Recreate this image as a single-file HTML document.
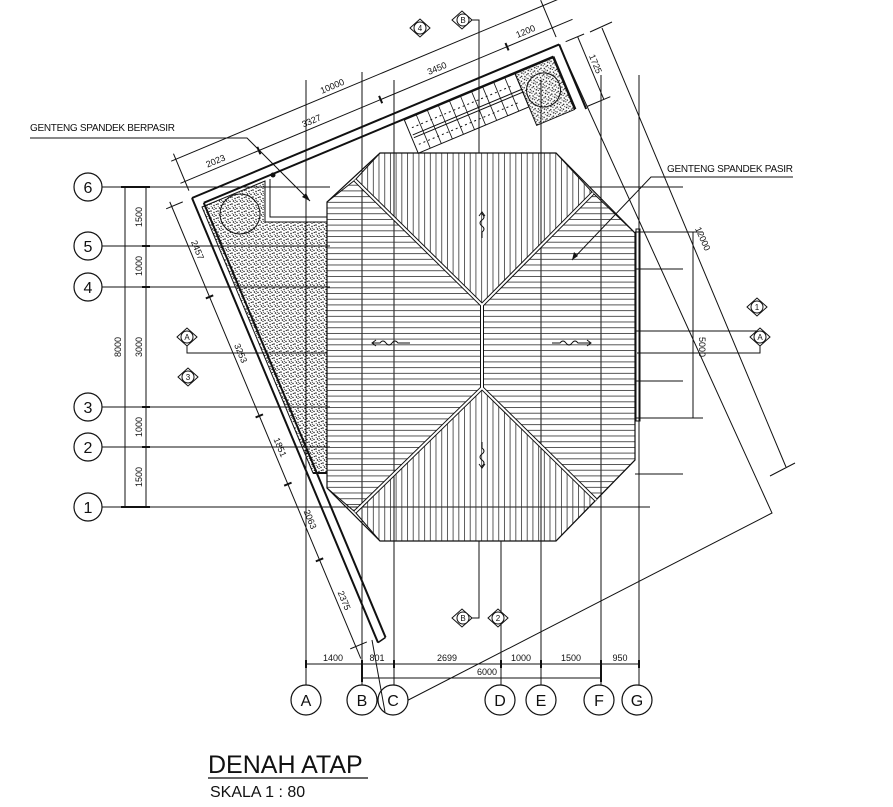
<!DOCTYPE html>
<html><head><meta charset="utf-8"><style>
html,body{margin:0;padding:0;background:#fff;}
svg{display:block;}
text{font-family:"Liberation Sans",sans-serif;fill:#111;}
.d{font-size:9px;}
</style></head><body>
<svg width="893" height="807" viewBox="0 0 893 807" xmlns="http://www.w3.org/2000/svg">
<defs>
<pattern id="hz" patternUnits="userSpaceOnUse" width="20" height="5.7"><line x1="0" y1="2.8" x2="20" y2="2.8" stroke="#333" stroke-width="0.8"/></pattern>
<pattern id="vt" patternUnits="userSpaceOnUse" width="5.7" height="20"><line x1="2.8" y1="0" x2="2.8" y2="20" stroke="#333" stroke-width="0.8"/></pattern>
<pattern id="gr" patternUnits="userSpaceOnUse" width="7" height="7">
<circle cx="1" cy="1" r="0.8" fill="#111"/><circle cx="4" cy="2.5" r="0.7" fill="#111"/><circle cx="2.5" cy="5" r="0.8" fill="#111"/><circle cx="6" cy="5.5" r="0.7" fill="#111"/><circle cx="6.3" cy="1.5" r="0.6" fill="#111"/><circle cx="1.2" cy="3.4" r="0.5" fill="#111"/><circle cx="4.6" cy="4.3" r="0.5" fill="#111"/><circle cx="4" cy="6.6" r="0.6" fill="#111"/>
</pattern>
</defs>
<g stroke="#111" fill="none" stroke-width="1">
<line x1="306" y1="80" x2="306" y2="685"/>
<line x1="362" y1="72" x2="362" y2="685"/>
<line x1="394" y1="80" x2="394" y2="685"/>
<line x1="501" y1="541" x2="501" y2="685"/>
<line x1="541" y1="80" x2="541" y2="685"/>
<line x1="601" y1="75" x2="601" y2="685"/>
<line x1="639" y1="75" x2="639" y2="685"/>
<line x1="102" y1="187" x2="330" y2="187"/>
<line x1="102" y1="246" x2="330" y2="246"/>
<line x1="102" y1="287" x2="330" y2="287"/>
<line x1="102" y1="407" x2="330" y2="407"/>
<line x1="102" y1="447" x2="330" y2="447"/>
<line x1="102" y1="507" x2="650" y2="507"/>
<line x1="590" y1="187" x2="683" y2="187"/>
<line x1="635" y1="232" x2="703" y2="232"/>
<line x1="635" y1="269" x2="683" y2="269"/>
<line x1="635" y1="331" x2="760" y2="331"/>
<line x1="635" y1="381" x2="683" y2="381"/>
<line x1="635" y1="418" x2="703" y2="418"/>
<line x1="635" y1="474" x2="683" y2="474"/>
<line x1="693" y1="232" x2="693" y2="418"/>
<rect x="636" y="229" width="4" height="192"/>
<line x1="125" y1="187" x2="125" y2="507"/>
<line x1="146" y1="187" x2="146" y2="507"/>
<g stroke-width="2"><line x1="121" y1="187" x2="150" y2="187"/><line x1="121" y1="507" x2="150" y2="507"/><line x1="142" y1="246" x2="150" y2="246"/><line x1="142" y1="287" x2="150" y2="287"/><line x1="142" y1="407" x2="150" y2="407"/><line x1="142" y1="447" x2="150" y2="447"/></g>
<line x1="306" y1="664" x2="639" y2="664"/>
<line x1="362" y1="678" x2="601" y2="678"/>
<g stroke-width="2"><line x1="306" y1="660" x2="306" y2="668"/><line x1="362" y1="660" x2="362" y2="682"/><line x1="394" y1="660" x2="394" y2="668"/><line x1="501" y1="660" x2="501" y2="668"/><line x1="541" y1="660" x2="541" y2="668"/><line x1="601" y1="660" x2="601" y2="682"/><line x1="639" y1="660" x2="639" y2="668"/></g>
<polyline points="566,60 772,513 385,712"/>
<line x1="602" y1="28" x2="786" y2="467"/>
<line x1="770" y1="476" x2="795" y2="463"/>
<line x1="590" y1="32" x2="612" y2="22"/>
</g>
<polygon points="202,207 265,181 265,222 327,222 327,473 313,473" fill="url(#gr)" stroke="#111"/>
<polyline points="270,179 270,217 327,217" fill="none" stroke="#111"/>
<circle cx="240" cy="214" r="20" fill="none" stroke="#111"/>
<circle cx="273" cy="175" r="2.5" fill="#111"/>
<line x1="313" y1="473" x2="327" y2="473" stroke="#111" stroke-width="2"/>

<g transform="translate(192,198) rotate(-22.7)" stroke="#111" fill="none">
<line x1="0" y1="0" x2="398" y2="0" stroke-width="2"/>
<line x1="9" y1="9" x2="388" y2="9" stroke-width="2"/>
<line x1="0" y1="0" x2="0" y2="482" stroke-width="2"/>
<line x1="9" y1="9" x2="9" y2="480" stroke-width="2"/>
<line x1="0" y1="482" x2="9" y2="480" stroke-width="1.5"/>
<line x1="398" y1="0" x2="398" y2="70" stroke-width="2"/>
<line x1="388" y1="9" x2="388" y2="66" stroke-width="2"/>
<polygon points="346,10 387,10 387,66 346,66" fill="url(#gr)" stroke="#111"/>
<circle cx="366" cy="36" r="17"/>
<polygon points="226,10 346,10 346,46 226,46" stroke-width="1"/>
<line x1="228" y1="27" x2="346" y2="27"/><line x1="228" y1="30" x2="346" y2="30"/>
<g stroke-width="0.8">
<line x1="239" y1="10" x2="239" y2="46"/><line x1="251" y1="10" x2="251" y2="46"/><line x1="263" y1="10" x2="263" y2="46"/><line x1="275" y1="10" x2="275" y2="46"/><line x1="287" y1="10" x2="287" y2="46"/><line x1="299" y1="10" x2="299" y2="46"/><line x1="311" y1="10" x2="311" y2="46"/><line x1="323" y1="10" x2="323" y2="46"/><line x1="335" y1="10" x2="335" y2="46"/>
</g>
<line x1="230" y1="20" x2="340" y2="20" stroke-dasharray="2 3"/>
<line x1="230" y1="38" x2="340" y2="38" stroke-dasharray="2 3"/>
<line x1="-5" y1="-42" x2="420" y2="-42"/>
<line x1="-5" y1="-18" x2="420" y2="-18"/>
<line x1="0" y1="-48" x2="0" y2="-8"/>
<g stroke-width="2"><line x1="80" y1="-22" x2="80" y2="-14"/><line x1="212" y1="-22" x2="212" y2="-14"/><line x1="349" y1="-22" x2="349" y2="-14"/></g>
<line x1="398" y1="-48" x2="398" y2="-8"/>
<line x1="-22" y1="-5" x2="-22" y2="490"/>
<g stroke-width="2"><line x1="-26" y1="98" x2="-18" y2="98"/><line x1="-26" y1="227" x2="-18" y2="227"/><line x1="-26" y1="301" x2="-18" y2="301"/><line x1="-26" y1="383" x2="-18" y2="383"/></g>
<line x1="-28" y1="0" x2="-10" y2="0"/>
<line x1="-28" y1="477" x2="-10" y2="477"/>
<line x1="418" y1="0" x2="418" y2="68"/>
<line x1="405" y1="0" x2="425" y2="0"/><line x1="400" y1="68" x2="425" y2="68"/>
<g fill="#111" stroke="none" font-family="Liberation Sans" font-size="9">
<text x="26" y="-22">2023</text>
<text x="130" y="-22">3327</text>
<text x="160" y="-46">10000</text>
<text x="266" y="-22">3450</text>
<text x="362" y="-22">1200</text>
</g>
<g fill="#111" stroke="none" font-family="Liberation Sans" font-size="9" transform="rotate(90)">
<text x="40" y="18">2457</text>
<text x="152" y="18">3253</text>
<text x="254" y="18">1851</text>
<text x="332" y="18">2063</text>
<text x="420" y="18">2375</text>
<text x="22" y="-421">1725</text>
</g>
</g>

<g stroke="#111" stroke-width="1">
<polygon points="380,153 556,153 593,193 482,305 355,180" fill="url(#vt)"/>
<polygon points="355,180 482,305 482,388 355,512 327,488 327,202" fill="url(#hz)"/>
<polygon points="593,193 635,233 635,460 596,500 482,388 482,305" fill="url(#hz)"/>
<polygon points="482,388 596,500 556,541 380,541 355,512" fill="url(#vt)"/>
<polygon points="380,153 556,153 635,233 635,460 556,541 380,541 327,488 327,202" fill="none" stroke-width="1.2"/>
<g stroke-width="4" stroke="#111"><line x1="355" y1="180" x2="482" y2="305"/><line x1="593" y1="193" x2="482" y2="305"/><line x1="482" y1="305" x2="482" y2="388"/><line x1="482" y1="388" x2="355" y2="512"/><line x1="482" y1="388" x2="596" y2="500"/></g>
<g stroke-width="2" stroke="#fff"><line x1="355" y1="180" x2="482" y2="305"/><line x1="593" y1="193" x2="482" y2="305"/><line x1="482" y1="305" x2="482" y2="388"/><line x1="482" y1="388" x2="355" y2="512"/><line x1="482" y1="388" x2="596" y2="500"/></g>
</g>
<g stroke="#111" fill="none" stroke-width="1">
<path d="M482,212 v2 q4,3 0,6 q-4,3 0,6 q4,3 0,6 v6" /><path d="M479,216 l3,-4 l3,4"/>
<path d="M372,343 h8 q3,-4 6,0 q3,4 6,0 q3,-4 6,0 h12"/><path d="M376,340 l-4,3 l4,3"/>
<path d="M552,343 h8 q3,-4 6,0 q3,4 6,0 q3,-4 6,0 h12"/><path d="M587,340 l4,3 l-4,3"/>
<path d="M482,442 v6 q4,3 0,6 q-4,3 0,6 q4,3 0,6 v2"/><path d="M479,464 l3,4 l3,-4"/>
</g>
<g stroke="#111" fill="#fff" stroke-width="1">
<polyline points="470,20 479,20 479,153" fill="none"/>
<polygon points="452,20 462,11 472,20 462,29"/><circle cx="463" cy="20" r="6"/>
<polygon points="410,28 420,19 430,28 420,37"/><circle cx="420" cy="28" r="6"/>
<polyline points="470,618 479,618 479,541" fill="none"/>
<polygon points="452,618 462,609 472,618 462,627"/><circle cx="463" cy="618" r="6"/>
<polygon points="488,618 498,609 508,618 498,627"/><circle cx="498" cy="618" r="6"/>
<polyline points="187,343 187,353 327,353" fill="none"/>
<polyline points="637,353 760,353 760,343" fill="none"/>
<polygon points="177,337 187,328 197,337 187,346"/><circle cx="187" cy="337" r="6"/>
<polygon points="178,377 188,368 198,377 188,386"/><circle cx="188" cy="377" r="6"/>
<polygon points="747,307 757,298 767,307 757,316"/><circle cx="757" cy="307" r="6"/>
<polygon points="750,337 760,328 770,337 760,346"/><circle cx="760" cy="337" r="6"/>
</g>
<g font-size="8" text-anchor="middle">
<text x="463" y="23">B</text><text x="420" y="31">4</text><text x="463" y="621">B</text><text x="498" y="621">2</text>
<text x="187" y="340">A</text><text x="188" y="380">3</text><text x="757" y="310">1</text><text x="760" y="340">A</text>
</g>
<g stroke="#111" fill="none">
<polyline points="30,138 247,138 310,201"/>
<polyline points="793,177 651,177 572,260"/>
</g>
<polygon points="310,201 302,197 306,193" fill="#111"/>
<polygon points="572,260 574,252 578,256" fill="#111"/>
<text x="30" y="131" font-size="10" textLength="145">GENTENG SPANDEK BERPASIR</text>
<text x="667" y="172" font-size="10" textLength="126">GENTENG SPANDEK PASIR</text>
<g stroke="#111" fill="#fff" stroke-width="1.2">
<circle cx="88" cy="187" r="14"/><circle cx="88" cy="246" r="14"/><circle cx="88" cy="287" r="14"/><circle cx="88" cy="407" r="14"/><circle cx="88" cy="447" r="14"/><circle cx="88" cy="507" r="14"/>
<circle cx="306" cy="700" r="15"/><circle cx="362" cy="700" r="15"/><circle cx="393" cy="700" r="15"/><circle cx="500" cy="700" r="15"/><circle cx="541" cy="700" r="15"/><circle cx="599" cy="700" r="15"/><circle cx="637" cy="700" r="15"/>
</g>
<line x1="372" y1="640" x2="385" y2="712" stroke="#111"/>
<g font-size="16" text-anchor="middle">
<text x="88" y="193">6</text><text x="88" y="252">5</text><text x="88" y="293">4</text><text x="88" y="413">3</text><text x="88" y="453">2</text><text x="88" y="513">1</text>
<text x="306" y="706">A</text><text x="362" y="706">B</text><text x="393" y="706">C</text><text x="500" y="706">D</text><text x="541" y="706">E</text><text x="599" y="706">F</text><text x="637" y="706">G</text>
</g>
<g class="d" text-anchor="middle">
<text x="333" y="661">1400</text><text x="377" y="661">801</text><text x="447" y="661">2699</text><text x="521" y="661">1000</text><text x="571" y="661">1500</text><text x="620" y="661">950</text><text x="487" y="675">6000</text>
</g>
<g class="d" text-anchor="middle">
<text transform="translate(142,217) rotate(-90)">1500</text>
<text transform="translate(142,266) rotate(-90)">1000</text>
<text transform="translate(142,347) rotate(-90)">3000</text>
<text transform="translate(142,427) rotate(-90)">1000</text>
<text transform="translate(142,477) rotate(-90)">1500</text>
<text transform="translate(121,347) rotate(-90)">8000</text>
<text transform="translate(699,347) rotate(90)">5000</text>
<text transform="translate(700,240) rotate(66)">12000</text>
</g>
<text x="208" y="773" font-size="25">DENAH ATAP</text>
<line x1="208" y1="778" x2="368" y2="778" stroke="#333" stroke-width="1.5"/>
<text x="210" y="797" font-size="16">SKALA 1 : 80</text>
</svg>
</body></html>
